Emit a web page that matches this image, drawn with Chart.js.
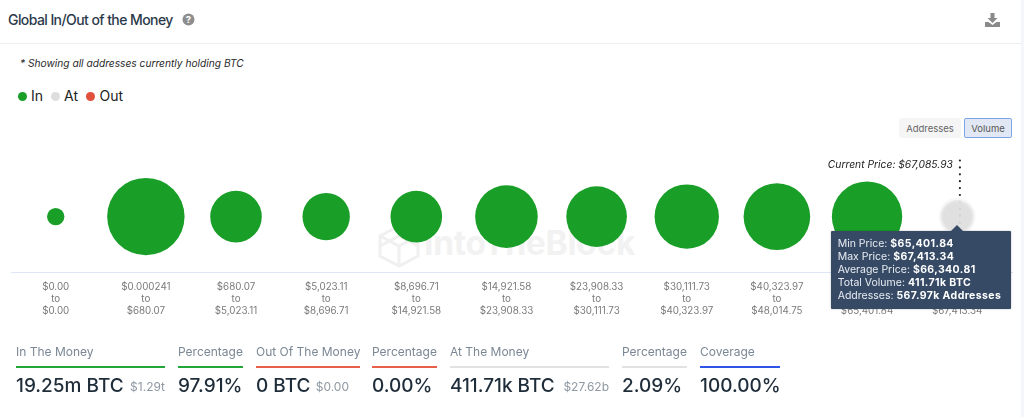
<!DOCTYPE html>
<html><head><meta charset="utf-8">
<script src="https://cdn.jsdelivr.net/npm/chart.js@4/dist/chart.umd.min.js"></script>
<style>
html,body{margin:0;padding:0;background:#fff;width:1024px;height:417px;overflow:hidden;font-family:Inter,"Noto Sans",sans-serif}
.abs{position:absolute;white-space:nowrap}
#band{left:1021px;top:0;width:3px;height:417px;background:#f4f6fb}
#hline{left:0;top:43px;width:1021px;height:1px;background:#eeeeee}
#title{left:8px;top:11px;font-size:14px;line-height:18px;font-weight:500;color:#2b3a4a;letter-spacing:-.58px}
#note{left:20px;top:56px;font-size:10.2px;line-height:14px;font-style:italic;color:#2a2a2a}
#legend{left:0;top:0}
#legend span{position:absolute;white-space:nowrap}
.dot{width:9px;height:9px;border-radius:50%}
.ltxt{font-size:14px;line-height:18px;color:#222;top:87px}
.btn{top:118px;height:20px;line-height:21px;font-size:9.5px;text-align:center;color:#666;border-radius:2px;box-sizing:border-box}
#b1{left:899px;width:62px;background:#f5f5f5}
#b2{left:964px;width:48px;background:#e2e8f3;border:1px solid #7aa5ea;line-height:19px;color:#555}
#wm{left:424px;top:223px;font-size:33.6px;line-height:40px;font-weight:700;color:#f2f2f2;letter-spacing:-.3px}
#chart{position:absolute;left:0;top:0}
.slabel{top:344px;font-size:12px;line-height:16px;color:#7b8794}
.sline{top:365.5px;height:2px}
.sval{top:374px;font-size:19px;line-height:24px;font-weight:500;color:#1f2d3a}
.ssub{top:378px;font-size:12px;line-height:18px;color:#8f99a3}
#tip{position:absolute;width:180px;height:78px;background:#364a66;color:#e8ecf2;font-size:10.5px;line-height:13px;box-sizing:border-box;padding:6px 7px;border-radius:1px;box-shadow:0 0 2px rgba(0,0,0,.3);white-space:nowrap;display:none}
#tip b{color:#fff;font-weight:700;letter-spacing:.4px}
#tip i{position:absolute;left:120px;top:-6px;width:0;height:0;border-left:6px solid transparent;border-right:6px solid transparent;border-bottom:6px solid #364a66}
</style></head><body>
<div class="abs" id="band"></div><div class="abs" id="hline"></div>
<div class="abs" id="title">Global In/Out of the Money</div>
<svg class="abs" style="left:182px;top:13px" width="13" height="13" viewBox="0 0 13 13"><circle cx="6.5" cy="6.5" r="6" fill="#8e8e8e"/><text x="6.5" y="10" text-anchor="middle" font-size="9.5" font-weight="700" fill="#fff" font-family="Inter">?</text></svg>
<svg class="abs" style="left:985px;top:13px" width="15" height="14" viewBox="0 0 15 14"><path d="M5.5 0h4v5h3l-5 5-5-5h3z" fill="#8a8a8a"/><path d="M0 9h3.5l4 3 4-3H15v5H0z" fill="#8a8a8a"/></svg>
<div class="abs" id="note">* Showing all addresses currently holding BTC</div>
<div class="abs" id="legend"></div>
<div class="abs btn" id="b1">Addresses</div><div class="abs btn" id="b2">Volume</div>
<svg class="abs" style="left:378px;top:224px" width="42" height="44" viewBox="0 0 42 44" fill="none" stroke="#f0f0f0" stroke-width="3"><path d="M21 2 40 12v20L21 42 2 32V12z"/><path d="M2 12l19 10 19-10M21 22v20M2 22l19-10 19 10"/></svg>
<div class="abs" id="wm">IntoTheBlock</div>
<canvas id="chart" width="1024" height="417"></canvas>
<div id="stats"></div>
<div id="tip"><i></i><div id="tipbody"></div></div>
<script>
const seriesNames = ["In","At","Out"];
const seriesColors = ["#199e28","#dedede","#e0503a"];
const rangeLow = ["$0.00","$0.000241","$680.07","$5,023.11","$8,696.71","$14,921.58","$23,908.33","$30,111.73","$40,323.97","$48,014.75","$65,401.84"];
const rangeHigh = ["$0.00","$680.07","$5,023.11","$8,696.71","$14,921.58","$23,908.33","$30,111.73","$40,323.97","$48,014.75","$65,401.84","$67,413.34"];
const inIndex = [0,1,2,3,4,5,6,7,8,9];
const inRadius = [8.7,38.7,25.8,23.7,25.8,31.3,30.3,32.2,33.3,35.2];
const atIndex = [10];
const atRadius = [16.5];
const rowLevel = [0.39];
const currentPriceLabel = "Current Price: $67,085.93";
const currentPriceIndex = 10.03;
const tooltipNames = ["Min Price:","Max Price:","Average Price:","Total Volume:","Addresses:"];
const tooltipValues = ["$65,401.84","$67,413.34","$66,340.81","411.71k BTC","567.97k Addresses"];
const statLabels = ["In The Money","Percentage","Out Of The Money","Percentage","At The Money","Percentage","Coverage"];
const statValues = ["19.25m BTC","97.91%","0 BTC","0.00%","411.71k BTC","2.09%","100.00%"];
const statSubs = ["$1.29t","","$0.00","","$27.62b","",""];
const statLeft = [16,178,256,372,450,622,700];
const statRight = [165,243,360,437,609,687,780];
const statColors = ["#22a838","#22a838","#e8604a","#e8604a","#e2e2e2","#e2e2e2","#2f55e8"];

const legendLeft=[18,51,86], legendText=[31,64,99.5];
const lg=document.getElementById('legend');
seriesNames.forEach((n,i)=>{
  lg.insertAdjacentHTML('beforeend',`<span class="dot" style="left:${legendLeft[i]}px;top:92px;background:${seriesColors[i]}"></span><span class="ltxt" style="left:${legendText[i]}px">${n}</span>`);
});
const st=document.getElementById('stats');
statLabels.forEach((l,i)=>{
  let h=`<div class="abs slabel" style="left:${statLeft[i]}px">${l}</div>`+
  `<div class="abs sline" style="left:${statLeft[i]}px;width:${statRight[i]-statLeft[i]}px;background:${statColors[i]}"></div>`+
  `<div class="abs sval" style="left:${statLeft[i]}px">${statValues[i]}</div>`;
  if(statSubs[i]) h+=`<div class="abs ssub" style="right:${1024-[165,0,349,0,609][i]}px">${statSubs[i]}</div>`;
  st.insertAdjacentHTML('beforeend',h);
});

const currentPricePlugin={id:'currentPrice',beforeDatasetsDraw(c){
  const x=c.scales.x.getPixelForValue(currentPriceIndex),g=c.ctx;
  g.save();g.strokeStyle='#222';g.lineWidth=2.2;g.lineCap='round';g.setLineDash([0,6.9]);
  g.beginPath();g.moveTo(x,160.5);g.lineTo(x,226);g.stroke();g.restore();
  g.save();g.fillStyle='#222';g.font='italic 10.3px Inter';g.textAlign='right';g.textBaseline='middle';
  g.fillText(currentPriceLabel,x-7,165);g.restore();
}};

function externalTip({tooltip}){
  const el=document.getElementById('tip');
  if(!tooltip.dataPoints||!tooltip.dataPoints.length){el.style.display='none';return;}
  document.getElementById('tipbody').innerHTML=tooltipNames.map((n,i)=>`<div>${n} <b>${tooltipValues[i]}</b></div>`).join('');
  el.style.display='block';
  el.style.left=(tooltip.caretX-126.5)+'px';
  el.style.top=(tooltip.caretY+14.5)+'px';
}

const chart=new Chart(document.getElementById('chart'),{
  type:'bubble',
  data:{datasets:[
    {label:seriesNames[0],data:inIndex.map((x,i)=>({x,y:rowLevel[0],r:inRadius[i]})),backgroundColor:seriesColors[0],hoverBackgroundColor:seriesColors[0],borderWidth:0,hoverBorderWidth:0,hoverRadius:0},
    {label:seriesNames[1],data:atIndex.map((x,i)=>({x,y:rowLevel[0],r:atRadius[i]})),backgroundColor:'rgba(222,222,222,.93)',hoverBackgroundColor:'rgba(222,222,222,.93)',borderColor:'rgba(240,240,240,.5)',hoverBorderColor:'rgba(240,240,240,.5)',borderWidth:4,hoverBorderWidth:4,hoverRadius:0},
    {label:seriesNames[2],data:[],backgroundColor:seriesColors[2]}
  ]},
  options:{
    responsive:false,animation:false,
    layout:{autoPadding:false,padding:{left:11,right:12,top:130,bottom:0}},
    plugins:{legend:{display:false},tooltip:{enabled:false,position:'average',external:externalTip}},
    scales:{
      x:{type:'linear',min:-0.496,max:10.608,
        afterBuildTicks(a){a.ticks=rangeLow.map((_,i)=>({value:i}));},
        afterFit(a){a.height=145;a.paddingLeft=0;a.paddingRight=0;},
        grid:{display:false},border:{display:true,color:'#dfe6f6',width:1},
        ticks:{autoSkip:false,maxRotation:0,padding:1,color:'#7a7a7a',font:{family:'Inter',size:9.8,lineHeight:1.22},
          callback:(v,i)=>[rangeLow[i],'to',rangeHigh[i]]}
      },
      y:{display:false,min:0,max:1}
    }
  },
  plugins:[currentPricePlugin]
});
const active=[{datasetIndex:1,index:0}];
chart.setActiveElements(active);
chart.tooltip.setActiveElements(active,{x:0,y:0});
chart.update();
</script>
</body></html>
